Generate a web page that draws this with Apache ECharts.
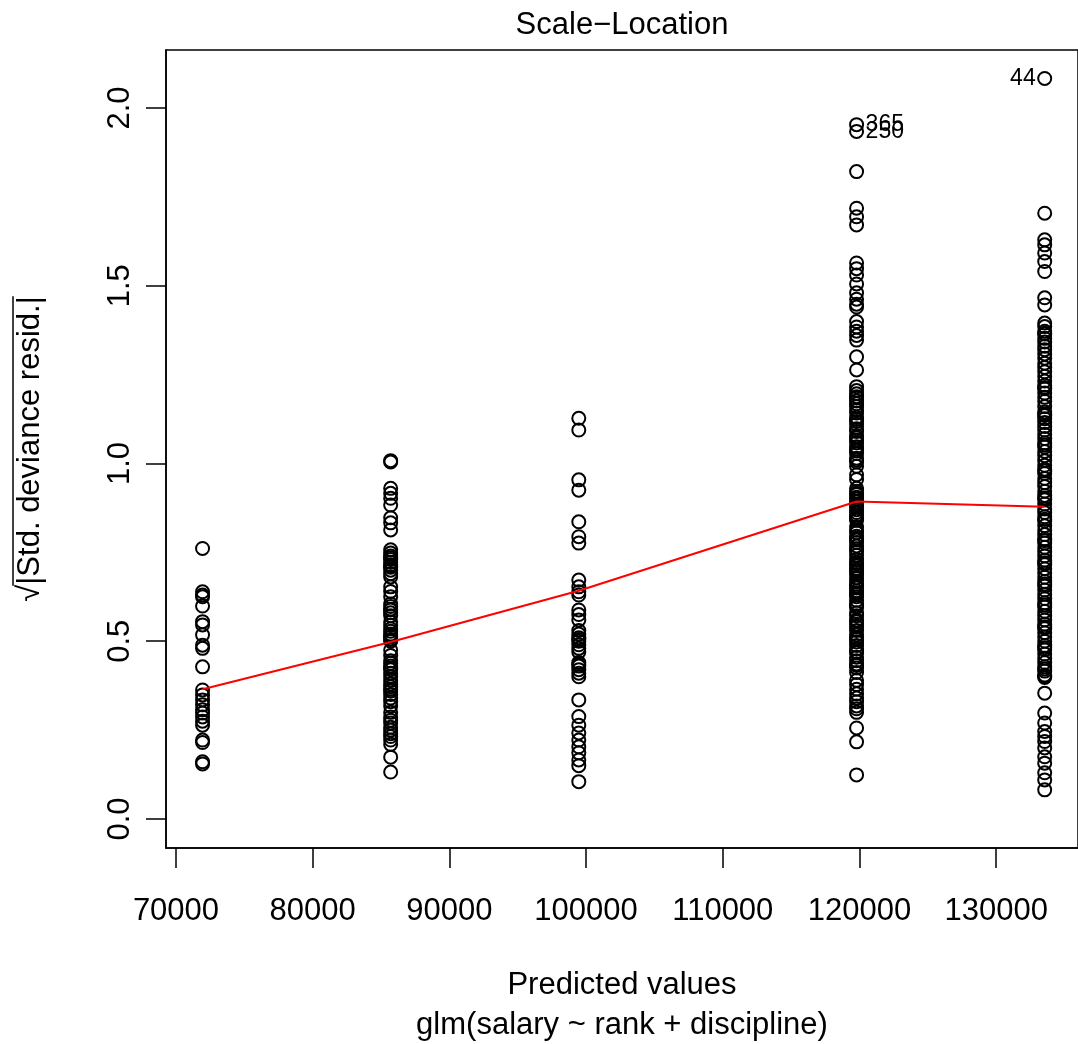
<!DOCTYPE html>
<html>
<head>
<meta charset="utf-8">
<script src="https://cdn.jsdelivr.net/npm/echarts@6/dist/echarts.min.js"></script>
<style>
  html, body { margin: 0; background: #fff; }
  #chart { width: 1078px; height: 1044px; }
</style>
</head>
<body>
<div id="chart"></div>
<script>
// fitted values of glm(salary ~ rank + discipline), one per group
var fitted = [71944, 85705, 99467, 119788, 133549];

// sqrt(|std. deviance resid.|), per group
var resid1 = [0.761, 0.639, 0.630, 0.625, 0.599, 0.555, 0.546, 0.518, 0.489, 0.480, 0.428, 0.363,
  0.349, 0.335, 0.321, 0.307, 0.298, 0.287, 0.275, 0.264, 0.222, 0.215, 0.161, 0.155];

var resid2 = [1.008, 1.004, 0.930, 0.916, 0.902, 0.883, 0.847, 0.833, 0.813, 0.757, 0.748, 0.740,
  0.735, 0.730, 0.722, 0.715, 0.710, 0.708, 0.700, 0.690, 0.681, 0.653, 0.640, 0.625, 0.605, 0.598,
  0.590, 0.588, 0.580, 0.572, 0.554, 0.545, 0.535, 0.528, 0.520, 0.515, 0.512, 0.505, 0.500, 0.475,
  0.460, 0.445, 0.438, 0.430, 0.425, 0.420, 0.410, 0.400, 0.390, 0.380, 0.372, 0.365, 0.360, 0.350,
  0.340, 0.330, 0.318, 0.300, 0.287, 0.278, 0.270, 0.258, 0.250, 0.240, 0.232, 0.222, 0.210, 0.174, 0.132];

var resid3 = [1.127, 1.094, 0.954, 0.925, 0.836, 0.794, 0.776, 0.672, 0.653, 0.639, 0.630, 0.588,
  0.575, 0.560, 0.530, 0.520, 0.510, 0.505, 0.500, 0.490, 0.480, 0.470, 0.440, 0.435, 0.430, 0.420,
  0.410, 0.400, 0.335, 0.288, 0.264, 0.242, 0.222, 0.203, 0.186, 0.166, 0.150, 0.105];

var resid4 = [1.953, 1.934, 1.821, 1.718, 1.694, 1.671, 1.564, 1.548, 1.530, 1.505, 1.480, 1.462,
  1.448, 1.440, 1.399, 1.384, 1.372, 1.360, 1.347, 1.300, 1.263, 1.216, 1.205, 1.196, 1.188, 1.185,
  1.176, 1.168, 1.160, 1.150, 1.142, 1.130, 1.124, 1.118, 1.110, 1.098, 1.090, 1.078, 1.072, 1.066,
  1.058, 1.047, 1.040, 1.035, 1.028, 1.015, 1.010, 1.004, 0.992, 0.968, 0.955, 0.930, 0.922, 0.916,
  0.913, 0.905, 0.900, 0.892, 0.885, 0.878, 0.870, 0.862, 0.855, 0.850, 0.845, 0.840, 0.822, 0.812,
  0.805, 0.795, 0.790, 0.785, 0.778, 0.768, 0.760, 0.752, 0.742, 0.730, 0.722, 0.718, 0.712, 0.705,
  0.700, 0.695, 0.688, 0.678, 0.668, 0.660, 0.655, 0.650, 0.642, 0.636, 0.632, 0.625, 0.615, 0.605,
  0.600, 0.595, 0.580, 0.572, 0.560, 0.555, 0.548, 0.540, 0.530, 0.518, 0.510, 0.505, 0.498, 0.488,
  0.478, 0.470, 0.468, 0.455, 0.445, 0.436, 0.432, 0.425, 0.412, 0.390, 0.378, 0.365, 0.352, 0.340,
  0.330, 0.318, 0.310, 0.300, 0.256, 0.217, 0.124];

var resid5 = [2.083, 1.704, 1.629, 1.615, 1.592, 1.568, 1.540, 1.466, 1.446, 1.395, 1.385, 1.372,
  1.364, 1.352, 1.342, 1.330, 1.320, 1.308, 1.296, 1.282, 1.270, 1.258, 1.245, 1.232, 1.220, 1.210,
  1.198, 1.186, 1.175, 1.160, 1.145, 1.135, 1.126, 1.115, 1.104, 1.094, 1.082, 1.070, 1.058, 1.046,
  1.034, 1.022, 1.008, 0.995, 0.984, 0.972, 0.958, 0.946, 0.935, 0.922, 0.910, 0.898, 0.886, 0.872,
  0.862, 0.850, 0.838, 0.825, 0.812, 0.800, 0.788, 0.776, 0.764, 0.752, 0.740, 0.728, 0.716, 0.704,
  0.692, 0.680, 0.668, 0.655, 0.644, 0.632, 0.620, 0.608, 0.596, 0.584, 0.572, 0.560, 0.548, 0.536,
  0.524, 0.512, 0.500, 0.488, 0.476, 0.464, 0.452, 0.440, 0.428, 0.416, 0.405, 0.398, 1.366, 1.214,
  1.139, 1.052, 0.979, 0.903, 0.843, 0.783, 0.721, 0.661, 0.602, 0.541, 0.482, 0.422, 0.402, 0.354,
  0.298, 0.270, 0.246, 0.232, 0.218, 0.200, 0.175, 0.157, 0.130, 0.110, 0.082];

// lowess smoother at each group
var smoothY = [0.365, 0.498, 0.642, 0.893, 0.878];

// identified points
var idLabels = ['44', '365', '250'];
var idX = [133549, 119788, 119788];
var idY = [2.083, 1.953, 1.934];
var idSide = ['left', 'right', 'right'];

var xTicks = [70000, 80000, 90000, 100000, 110000, 120000, 130000];
var yTicks = [0, 0.5, 1, 1.5, 2];

var FONT = '"Liberation Sans", Arial, sans-serif';

var chart = echarts.init(document.getElementById('chart'));

var groups = [resid1, resid2, resid3, resid4, resid5];
var points = [];
groups.forEach(function (g, i) {
  g.forEach(function (v) { points.push([fitted[i], v]); });
});

var idData = idLabels.map(function (t, i) {
  return {
    value: [idX[i], idY[i]],
    label: { show: true, formatter: t, position: idSide[i], distance: 9 }
  };
});

// y axis title with sqrt sign and overline
var ctx = document.createElement('canvas').getContext('2d');
ctx.font = '31px ' + FONT;
var yName = '\u221A|Std. deviance resid.|';
var nameW = ctx.measureText(yName).width;
var rootW = ctx.measureText('\u221A').width;

var option = {
  animation: false,
  backgroundColor: '#fff',
  grid: { left: 166, top: 50, width: 914, height: 798, show: true,
    borderColor: '#000', borderWidth: 1.5, backgroundColor: 'transparent' },
  xAxis: {
    type: 'value', min: 69270, max: 135985,
    splitLine: { show: false },
    axisLine: { onZero: false, lineStyle: { color: '#000', width: 1.5 } },
    axisTick: { customValues: xTicks, length: 20, lineStyle: { color: '#000', width: 1.5 } },
    axisLabel: { customValues: xTicks, margin: 48, color: '#000', fontSize: 31, fontFamily: FONT,
      formatter: function (v) { return String(v); } }
  },
  yAxis: {
    type: 'value', min: -0.0816, max: 2.163,
    splitLine: { show: false },
    axisLine: { onZero: false, lineStyle: { color: '#000', width: 1.5 } },
    axisTick: { customValues: yTicks, length: 20, lineStyle: { color: '#000', width: 1.5 } },
    axisLabel: { customValues: yTicks, rotate: 90, margin: 30, color: '#000', fontSize: 31, fontFamily: FONT,
      formatter: function (v) { return v.toFixed(1); } }
  },
  series: [
    {
      type: 'scatter', data: points, symbol: 'circle', symbolSize: 13,
      itemStyle: { color: 'rgba(0,0,0,0)', borderColor: '#000', borderWidth: 2, opacity: 1 },
      z: 2
    },
    {
      type: 'line', data: fitted.map(function (x, i) { return [x, smoothY[i]]; }),
      showSymbol: false, lineStyle: { color: '#ff0000', width: 2 }, z: 3
    },
    {
      type: 'scatter', data: idData, symbolSize: 0, itemStyle: { opacity: 1 },
      label: { color: '#000', fontSize: 23, fontFamily: FONT },
      z: 4
    }
  ],
  graphic: [
    { type: 'text', x: 622, y: 25, style: { text: 'Scale\u2212Location', font: '31px ' + FONT,
      fill: '#000', align: 'center', verticalAlign: 'middle' } },
    { type: 'text', x: 622, y: 985, style: { text: 'Predicted values', font: '31px ' + FONT,
      fill: '#000', align: 'center', verticalAlign: 'middle' } },
    { type: 'text', x: 622, y: 1025, style: { text: 'glm(salary ~ rank + discipline)', font: '31px ' + FONT,
      fill: '#000', align: 'center', verticalAlign: 'middle' } },
    {
      type: 'group', x: 30, y: 449, rotation: Math.PI / 2,
      children: [
        { type: 'text', x: -nameW / 2, y: 0, style: { text: yName, font: '31px ' + FONT, fill: '#000',
          align: 'left', verticalAlign: 'middle' } },
        { type: 'line', shape: { x1: -nameW / 2 + rootW - 1, y1: -17, x2: nameW / 2, y2: -17 },
          style: { stroke: '#000', lineWidth: 1.5 } }
      ]
    }
  ]
};

chart.setOption(option);
</script>
</body>
</html>
